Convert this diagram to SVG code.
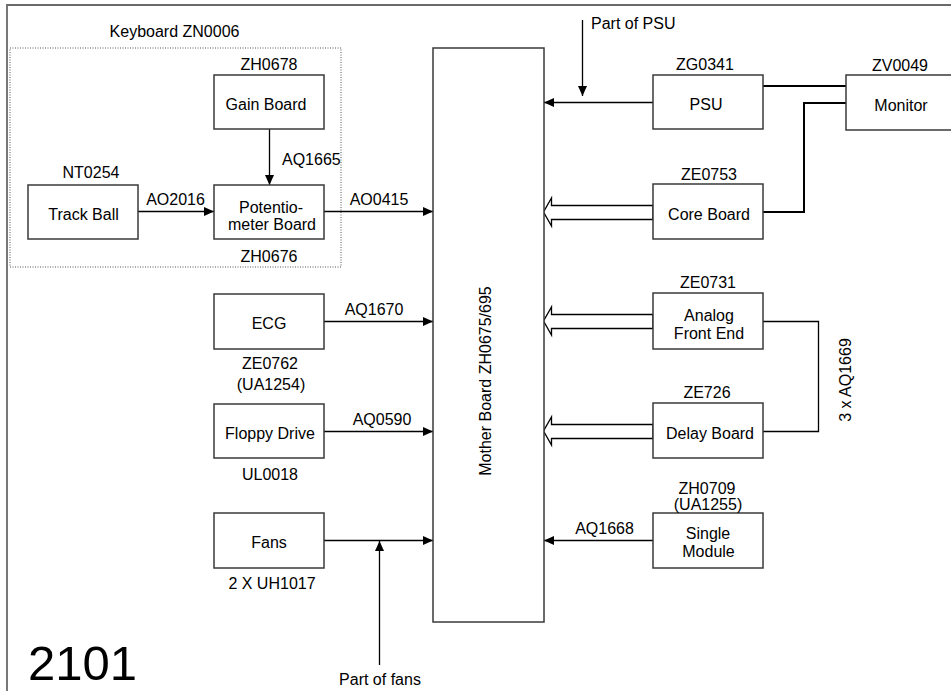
<svg xmlns="http://www.w3.org/2000/svg" width="951" height="691" viewBox="0 0 951 691">
<defs>
<marker id="ah" markerUnits="userSpaceOnUse" markerWidth="10" markerHeight="9" refX="10" refY="4.5" orient="auto">
<path d="M0,0 L10,4.5 L0,9 z" fill="#000"/>
</marker>
<style>
text{font-family:"Liberation Sans",Arial,sans-serif;font-size:16px;fill:#000}
.c{text-anchor:middle}
.box{fill:#fff;stroke:#3a3a3a;stroke-width:1.5}
.ln{fill:none;stroke:#000;stroke-width:1.3}
.thick{fill:none;stroke:#000;stroke-width:2}
.hol{fill:#fff;stroke:#000;stroke-width:1.3}
</style>
</defs>
<rect width="951" height="691" fill="#fff"/>
<path d="M7,691 V5 H951" fill="none" stroke="#6a6a6a" stroke-width="1.8"/>
<text x="28" y="680" style="font-size:49px">2101</text>

<g id="keyboard">
<rect x="10" y="48" width="331" height="219" fill="none" stroke="#555" stroke-width="1" stroke-dasharray="1,1.5"/>
<text class="c" x="174.5" y="37">Keyboard ZN0006</text>
</g>

<g id="connectors">
<path class="ln" d="M138,211.5 H214" marker-end="url(#ah)"/>
<path class="ln" d="M269.5,129 V185" marker-end="url(#ah)"/>
<path class="ln" d="M324,211.5 H433" marker-end="url(#ah)"/>
<path class="ln" d="M324,321.5 H433" marker-end="url(#ah)"/>
<path class="ln" d="M324,431.5 H433" marker-end="url(#ah)"/>
<path class="ln" d="M324,540.5 H433" marker-end="url(#ah)"/>
<path class="ln" d="M379.5,665 V541" marker-end="url(#ah)"/>
<path class="ln" d="M653,102.5 H544" marker-end="url(#ah)"/>
<path class="ln" d="M582.5,20 V96" marker-end="url(#ah)"/>
<path class="ln" d="M653,540.5 H544" marker-end="url(#ah)"/>
<path class="thick" d="M763,86 H846"/>
<path class="thick" d="M763,212 H804 V103 H846"/>
<path class="ln" d="M763,321.5 H818.5 V431.5 H763"/>
<polygon class="hol" points="653,205.5 551.5,205.5 551.5,198 543.5,212 551.5,226 551.5,219.5 653,219.5"/>
<polygon class="hol" points="653,314.5 551.5,314.5 551.5,307 543.5,321 551.5,335 551.5,328.5 653,328.5"/>
<polygon class="hol" points="653,424.5 551.5,424.5 551.5,417 543.5,431 551.5,445 551.5,438.5 653,438.5"/>
<text class="c" x="175.5" y="205">AO2016</text>
<text x="282" y="165">AQ1665</text>
<text class="c" x="379" y="205">AO0415</text>
<text class="c" x="374" y="315">AQ1670</text>
<text class="c" x="382" y="425">AQ0590</text>
<text class="c" x="380" y="684.5">Part of fans</text>
<text x="591" y="29">Part of PSU</text>
<text class="c" x="604.5" y="534">AQ1668</text>
<text class="c" transform="translate(851,380) rotate(-90)">3 x AQ1669</text>
</g>

<g id="gain-board">
<rect class="box" x="214" y="75" width="110" height="54"/>
<text class="c" x="269" y="70">ZH0678</text>
<text class="c" x="266" y="110">Gain Board</text>
</g>
<g id="track-ball">
<rect class="box" x="28" y="185" width="110" height="54"/>
<text class="c" x="91" y="178">NT0254</text>
<text class="c" x="83.5" y="220">Track Ball</text>
</g>
<g id="potentiometer-board">
<rect class="box" x="214" y="185" width="110" height="54"/>
<text class="c" x="271" y="213">Potentio-</text>
<text class="c" x="272" y="230">meter Board</text>
<text class="c" x="269" y="262">ZH0676</text>
</g>
<g id="ecg">
<rect class="box" x="214" y="294" width="110" height="55"/>
<text class="c" x="269" y="329">ECG</text>
<text class="c" x="270" y="369">ZE0762</text>
<text class="c" x="271" y="390">(UA1254)</text>
</g>
<g id="floppy-drive">
<rect class="box" x="214" y="404" width="110" height="54"/>
<text class="c" x="270" y="438.5">Floppy Drive</text>
<text class="c" x="270" y="480">UL0018</text>
</g>
<g id="fans">
<rect class="box" x="214" y="513" width="110" height="55"/>
<text class="c" x="269" y="548">Fans</text>
<text class="c" x="272" y="589">2 X UH1017</text>
</g>
<g id="mother-board">
<rect class="box" x="433" y="48" width="111" height="574"/>
<text class="c" transform="translate(491,381) rotate(-90)">Mother Board ZH0675/695</text>
</g>
<g id="psu">
<rect class="box" x="653" y="75" width="110" height="54"/>
<text class="c" x="705" y="70">ZG0341</text>
<text class="c" x="706" y="110">PSU</text>
</g>
<g id="monitor">
<rect class="box" x="846" y="75" width="130" height="55"/>
<text class="c" x="900" y="71">ZV0049</text>
<text class="c" x="901" y="111">Monitor</text>
</g>
<g id="core-board">
<rect class="box" x="653" y="184" width="110" height="55"/>
<text class="c" x="709" y="180">ZE0753</text>
<text class="c" x="709" y="220">Core Board</text>
</g>
<g id="analog-front-end">
<rect class="box" x="653" y="293" width="110" height="56"/>
<text class="c" x="708" y="288">ZE0731</text>
<text class="c" x="709" y="320.5">Analog</text>
<text class="c" x="709" y="339">Front End</text>
</g>
<g id="delay-board">
<rect class="box" x="653" y="403" width="110" height="55"/>
<text class="c" x="707" y="398">ZE726</text>
<text class="c" x="710" y="439">Delay Board</text>
</g>
<g id="single-module">
<rect class="box" x="653" y="513" width="110" height="55"/>
<text class="c" x="707" y="494">ZH0709</text>
<text class="c" x="708" y="509.5">(UA1255)</text>
<text class="c" x="708" y="539">Single</text>
<text class="c" x="708.5" y="556.7">Module</text>
</g>
</svg>
